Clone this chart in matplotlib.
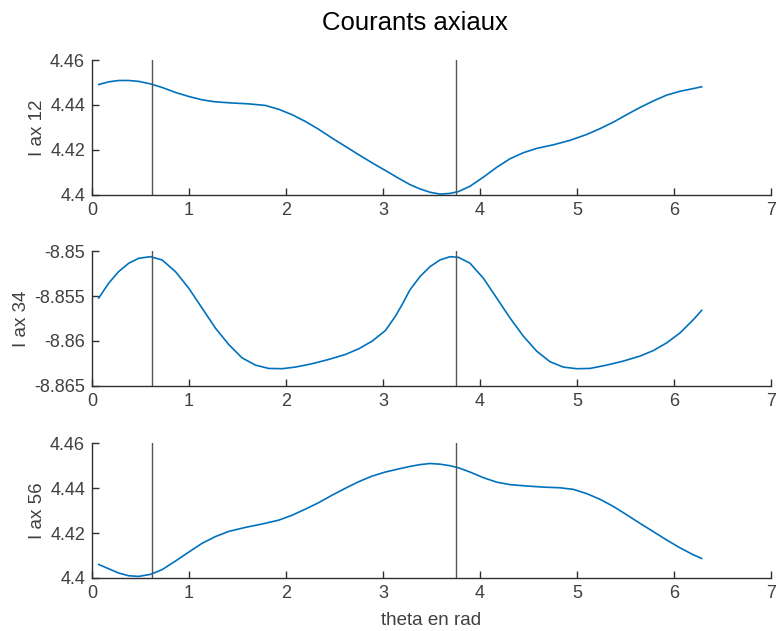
import numpy as np
import matplotlib
matplotlib.use("Agg")
import matplotlib.pyplot as plt
from matplotlib.ticker import FuncFormatter

plt.rcParams['font.family'] = ['Liberation Sans', 'DejaVu Sans']

# Sampled axial currents vs. rotor angle (rad)
theta12 = [0.069, 0.172, 0.275, 0.378, 0.481, 0.601, 0.722, 0.859, 0.997, 1.134,
           1.271, 1.443, 1.615, 1.787, 1.924, 2.062, 2.199, 2.337, 2.474, 2.612,
           2.749, 2.887, 3.024, 3.162, 3.278, 3.381, 3.485, 3.588, 3.691, 3.777,
           3.897, 4.034, 4.172, 4.309, 4.447, 4.584, 4.756, 4.928, 5.100, 5.237,
           5.375, 5.512, 5.649, 5.787, 5.924, 6.062, 6.199, 6.285]
i_ax12 = [4.4491, 4.4503, 4.4509, 4.4509, 4.4505, 4.4494, 4.4478, 4.4456, 4.4438,
          4.4423, 4.4414, 4.4409, 4.4405, 4.4398, 4.4381, 4.4357, 4.4327, 4.4292,
          4.4253, 4.4216, 4.4179, 4.4143, 4.4109, 4.4074, 4.4046, 4.4027, 4.4012,
          4.4004, 4.4007, 4.4015, 4.4039, 4.4079, 4.4123, 4.4161, 4.4188, 4.4207,
          4.4223, 4.4243, 4.4269, 4.4295, 4.4324, 4.4357, 4.4389, 4.4418, 4.4444,
          4.4461, 4.4473, 4.4481]

theta34 = [0.069, 0.172, 0.275, 0.378, 0.481, 0.601, 0.722, 0.859, 0.997, 1.134,
           1.271, 1.409, 1.546, 1.684, 1.821, 1.959, 2.096, 2.268, 2.440, 2.612,
           2.749, 2.887, 3.024, 3.127, 3.196, 3.278, 3.381, 3.485, 3.588, 3.691,
           3.777, 3.897, 4.034, 4.172, 4.309, 4.447, 4.584, 4.722, 4.859, 4.997,
           5.134, 5.306, 5.478, 5.649, 5.787, 5.924, 6.062, 6.199, 6.285]
i_ax34 = [-8.85523, -8.85357, -8.85228, -8.85136, -8.85081, -8.85063, -8.85099,
          -8.85228, -8.85413, -8.85634, -8.85855, -8.86039, -8.86187, -8.86268,
          -8.86305, -8.86308, -8.86290, -8.86253, -8.86205, -8.86150, -8.86087,
          -8.86002, -8.85884, -8.85726, -8.85597, -8.85431, -8.85284, -8.85173,
          -8.85099, -8.85063, -8.85070, -8.85136, -8.85302, -8.85523, -8.85744,
          -8.85947, -8.86113, -8.86231, -8.86290, -8.86308, -8.86305, -8.86268,
          -8.86223, -8.86168, -8.86106, -8.86021, -8.85910, -8.85763, -8.85660]

theta56 = [0.069, 0.172, 0.275, 0.378, 0.481, 0.601, 0.722, 0.859, 0.997, 1.134,
           1.271, 1.409, 1.581, 1.753, 1.924, 2.062, 2.199, 2.337, 2.474, 2.612,
           2.749, 2.887, 3.024, 3.162, 3.278, 3.381, 3.485, 3.588, 3.691, 3.777,
           3.897, 4.034, 4.172, 4.309, 4.481, 4.653, 4.825, 4.962, 5.100, 5.237,
           5.375, 5.512, 5.649, 5.787, 5.924, 6.062, 6.199, 6.285]
i_ax56 = [4.4060, 4.4041, 4.4022, 4.4010, 4.4007, 4.4016, 4.4037, 4.4075, 4.4115,
          4.4154, 4.4184, 4.4207, 4.4225, 4.4240, 4.4257, 4.4279, 4.4306, 4.4335,
          4.4368, 4.4399, 4.4428, 4.4453, 4.4471, 4.4485, 4.4496, 4.4504, 4.4509,
          4.4506, 4.4499, 4.4490, 4.4471, 4.4446, 4.4426, 4.4415, 4.4409, 4.4404,
          4.4401, 4.4394, 4.4375, 4.4350, 4.4318, 4.4281, 4.4243, 4.4206, 4.4169,
          4.4134, 4.4103, 4.4087]

markers = [0.615, 3.757]

panels = [
    (theta12, i_ax12, "I ax 12", [4.4, 4.42, 4.44, 4.46]),
    (theta34, i_ax34, "I ax 34", [-8.865, -8.86, -8.855, -8.85]),
    (theta56, i_ax56, "I ax 56", [4.4, 4.42, 4.44, 4.46]),
]

fig = plt.figure(figsize=(7.76, 6.31), dpi=100)
left, width = 0.1186, 0.875
bottoms = [0.691, 0.3883, 0.084]
height = 0.2139

dark = "#303030"
for (x, y, lab, yt), b in zip(panels, bottoms):
    ax = fig.add_axes([left, b, width, height])
    ax.plot(x, y, color="#0072BD", lw=1.2)
    ax.set_xlim(0, 7)
    ax.set_ylim(yt[0], yt[-1])
    for m in markers:
        ax.axvline(m, color="#555555", lw=1.0)
    ax.set_xticks(range(8))
    ax.set_yticks(yt)
    ax.yaxis.set_major_formatter(FuncFormatter(lambda v, p: "{:g}".format(round(v, 4))))
    ax.spines["top"].set_visible(False)
    ax.spines["right"].set_visible(False)
    for s in ("left", "bottom"):
        ax.spines[s].set_color(dark)
        ax.spines[s].set_linewidth(1.0)
    ax.tick_params(direction="in", length=5, width=1.0, colors=dark,
                   labelsize=13, labelcolor="#404040", pad=5)
    ax.set_ylabel(lab, fontsize=13.5, color="#404040", labelpad=3)
    if b == bottoms[-1]:
        ax.set_xlabel("theta en rad", fontsize=13.5, color="#404040", labelpad=7)

fig.text(0.535, 0.963, "Courants axiaux", ha="center", va="center",
         fontsize=18.5, color="black")

fig.savefig("out.png", dpi=100)
